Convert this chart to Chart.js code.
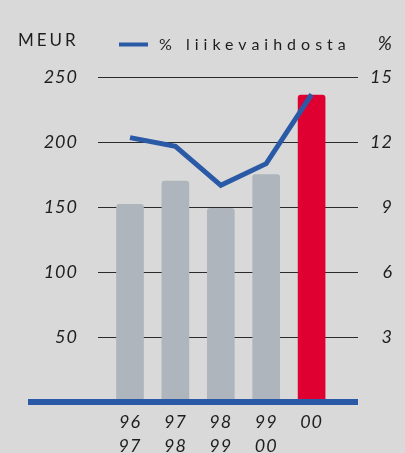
<!DOCTYPE html>
<html>
<head>
<meta charset="utf-8">
<script src="https://cdn.jsdelivr.net/npm/chart.js@4.4.0/dist/chart.umd.min.js"></script>
<style>
  html, body { margin: 0; padding: 0; background: #d9d9d9; }
  .chartBox { position: relative; width: 405px; height: 453px; }
</style>
</head>
<body>
<div class="chartBox"><canvas id="chart"></canvas></div>
<script>
// chart values
const periods = [['96', '97'], ['97', '98'], ['98', '99'], ['99', '00'], ['00']];
const meur = [152, 170, 149, 175, 236];
const pctOfSales = [12.2, 11.8, 10.0, 11.0, 14.2];
const meurTicks = [50, 100, 150, 200, 250];
const pctTicks = [3, 6, 9, 12, 15];

const BLUE = '#2a59a6';
const GREY = '#aeb5bc';
const RED = '#df0031';
const INK = '#1e1e1e';
const FONT = 'Lato, "Open Sans", sans-serif';
const SPACING = '1px';

// header row + blue base line
const decor = {
  id: 'decor',
  beforeLayout(chart) { chart.ctx.letterSpacing = SPACING; },
  beforeDraw(chart) { chart.ctx.letterSpacing = SPACING; },
  afterDatasetsDraw(chart) {
    const { ctx, chartArea, scales: { y } } = chart;
    const y0 = y.getPixelForValue(0);
    ctx.save();
    ctx.fillStyle = BLUE;
    ctx.fillRect(28, y0 - 3, chartArea.right - 28, 6);
    ctx.restore();
  },
  afterDraw(chart) {
    const ctx = chart.ctx;
    ctx.save();
    ctx.fillStyle = INK;
    ctx.textBaseline = 'alphabetic';

    ctx.letterSpacing = '3px';
    ctx.font = '17px ' + FONT;
    ctx.textAlign = 'left';
    ctx.fillText('MEUR', 18, 46);

    ctx.fillStyle = BLUE;
    ctx.fillRect(119, 42.5, 29, 4);

    ctx.fillStyle = INK;
    ctx.letterSpacing = '5px';
    ctx.font = '16px ' + FONT;
    ctx.fillText('% liikevaihdosta', 159, 50);

    ctx.letterSpacing = '0px';
    ctx.font = 'italic 19px ' + FONT;
    ctx.textAlign = 'right';
    ctx.fillText('%', 392, 50);
    ctx.restore();
  }
};

const ctx = document.getElementById('chart').getContext('2d');

new Chart(ctx, {
  type: 'bar',
  data: {
    datasets: [
      {
        type: 'line',
        label: '% liikevaihdosta',
        data: pctOfSales.map((v, i) => ({ x: i, y: v })),
        yAxisID: 'y2',
        borderColor: BLUE,
        borderWidth: 5,
        pointRadius: 0,
        tension: 0,
        order: 0,
      },
      {
        label: 'MEUR',
        data: meur.map((v, i) => ({ x: i, y: v })),
        yAxisID: 'y',
        backgroundColor: c => (c.dataIndex === meur.length - 1 ? RED : GREY),
        barThickness: 27,
        borderRadius: 3,
        borderSkipped: 'bottom',
        order: 1,
      },
    ],
  },
  options: {
    responsive: true,
    maintainAspectRatio: false,
    animation: false,
    layout: { padding: { top: 77, left: 0, right: 12, bottom: 0 } },
    scales: {
      x: {
        type: 'linear',
        min: -0.705,
        max: 5.022,
        offset: false,
        grid: { display: false },
        border: { display: false },
        afterBuildTicks: s => { s.ticks = periods.map((p, i) => ({ value: i })); },
        afterFit: s => { s.height = 51; },
        ticks: {
          autoSkip: false,
          maxRotation: 0,
          padding: 0,
          color: INK,
          font: { family: FONT, size: 18, style: 'italic', lineHeight: 1.35 },
          callback: v => periods[v],
        },
      },
      y: {
        position: 'left',
        min: 0,
        max: 250,
        border: { display: false },
        grid: { color: '#2a2a2a', lineWidth: 1, drawTicks: false },
        afterBuildTicks: s => { s.ticks = meurTicks.map(v => ({ value: v })); },
        afterFit: s => { s.width = 98; },
        ticks: {
          padding: 20,
          color: INK,
          font: { family: FONT, size: 18, style: 'italic' },
        },
      },
      y2: {
        position: 'right',
        min: 0,
        max: 15,
        border: { display: false },
        grid: { display: false, drawTicks: false },
        afterBuildTicks: s => { s.ticks = pctTicks.map(v => ({ value: v })); },
        afterFit: s => { s.width = 35; },
        ticks: {
          padding: 0,
          crossAlign: 'far',
          color: INK,
          font: { family: FONT, size: 18, style: 'italic' },
        },
      },
    },
    plugins: {
      legend: { display: false },
      tooltip: { enabled: false },
    },
  },
  plugins: [decor],
});
</script>
</body>
</html>
